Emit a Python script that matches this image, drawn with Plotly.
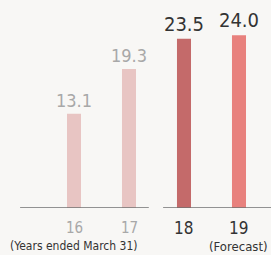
import plotly.graph_objects as go

years = [16, 17, 18, 19]
year_labels = ["16", "17", "18", "19"]
values = [13.1, 19.3, 23.5, 24.0]
value_labels = ["13.1", "19.3", "23.5", "24.0"]
bar_colors = ["#e8c5c3", "#e8c5c3", "#c46a6a", "#e8817d"]
label_colors = ["#a8a8a8", "#a8a8a8", "#333333", "#333333"]
label_sizes = [18, 18, 20, 20]
tick_sizes = [15, 15, 17, 17]

FONT = "DejaVu Sans Condensed, Liberation Sans Narrow, Roboto, sans-serif"
BG = "#f8f7f5"

fig = go.Figure()
fig.add_trace(go.Bar(
    x=years, y=values, width=0.255,
    marker=dict(color=bar_colors, line=dict(width=0)),
    text=value_labels, textposition="outside", constraintext="none",
    textfont=dict(family=FONT, size=label_sizes, color=label_colors),
    cliponaxis=False, hoverinfo="skip",
))

# baselines (two segments: results / forecast groups)
for x0, x1 in [(15.02, 17.36), (17.62, 20.0)]:
    fig.add_shape(type="line", xref="x", yref="y", x0=x0, x1=x1, y0=0, y1=0,
                  line=dict(color="#707070", width=1.5))

for xv, lab, col, sz in zip(years, year_labels, label_colors, tick_sizes):
    fig.add_annotation(x=xv, y=0, xref="x", yref="y", yshift=-20, text=lab,
                       showarrow=False, font=dict(family=FONT, size=sz, color=col))

fig.add_annotation(x=16.0, y=0, xref="x", yref="y", yshift=-38,
                   text="(Years ended March 31)", showarrow=False,
                   font=dict(family=FONT, size=12, color="#333333"))
fig.add_annotation(x=19.0, y=0, xref="x", yref="y", yshift=-38,
                   text="(Forecast)", showarrow=False,
                   font=dict(family=FONT, size=13, color="#333333"))

fig.update_layout(
    width=271, height=255,
    margin=dict(l=0, r=0, t=0, b=47),
    paper_bgcolor=BG, plot_bgcolor=BG,
    showlegend=False,
    hovermode=False,
    xaxis=dict(range=[14.6545, 19.582], visible=False, fixedrange=True),
    yaxis=dict(range=[0, 28.9], visible=False, fixedrange=True),
)

fig.write_html("out.html",
               config={"displayModeBar": False, "staticPlot": True},
               post_script="document.body.style.margin='0';document.body.style.overflow='hidden';document.body.style.background='" + BG + "';")
